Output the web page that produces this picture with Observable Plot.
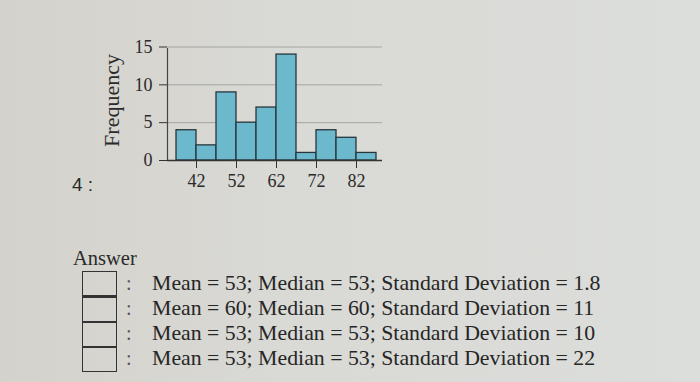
<!DOCTYPE html>
<html>
<head>
<meta charset="utf-8">
<script src="https://cdn.jsdelivr.net/npm/d3@7"></script>
<script src="https://cdn.jsdelivr.net/npm/@observablehq/plot@0.6"></script>
<style>
  html, body { margin: 0; padding: 0; }
  body {
    width: 700px; height: 382px; overflow: hidden; position: relative;
    background: linear-gradient(90deg, #d4d2cc 0%, #d9d9d5 40%, #dcdedb 100%);
    color: #262626;
  }
  #chart { position: absolute; left: 0; top: 0; }
  .qnum { position: absolute; left: 72px; top: 174px; font-family: "Liberation Sans", Arial, sans-serif; font-size: 19px; color: #2a2a2a; }
  .answer { position: absolute; left: 73px; top: 246px; font-family: "Liberation Serif", "Times New Roman", serif; font-size: 20.5px; line-height: 24px; color: #2a2a2a; }
  .choices { position: absolute; left: 82px; top: 271px; }
  .row { position: relative; height: 25px; }
  .box { position: absolute; left: 0; top: 0; width: 33px; height: 23px; border: 1.5px solid #333; }
  .row + .row .box { top: -0.5px; border-top-width: 2px; }
  .colon { position: absolute; left: 44px; top: 0px; font-family: "Liberation Serif", serif; font-size: 20px; line-height: 25px; color: #555; }
  .txt { position: absolute; left: 70px; top: 0px; white-space: nowrap; font-family: "Liberation Serif", "Times New Roman", serif; font-size: 21.8px; line-height: 25px; color: #262626; }
</style>
</head>
<body>
<div id="chart"></div>
<script>
// ---- data ----
const binLower = [37, 42, 47, 52, 57, 62, 67, 72, 77, 82];
const binUpper = [42, 47, 52, 57, 62, 67, 72, 77, 82, 87];
const counts   = [4, 2, 9, 5, 7, 14, 1, 4, 3, 1];
const xTicks = [42, 52, 62, 72, 82];
const yTicks = [0, 5, 10, 15];
const yLabel = "Frequency";
const questionLabel = "4 :";
const answerLabel = "Answer";
const choices = [
  "Mean = 53; Median = 53; Standard Deviation = 1.8",
  "Mean = 60; Median = 60; Standard Deviation = 11",
  "Mean = 53; Median = 53; Standard Deviation = 10",
  "Mean = 53; Median = 53; Standard Deviation = 22"
];

const bins = binLower.map((lo, i) => ({lo, hi: binUpper[i], count: counts[i]}));
const xDomain = [34.75, 88.5];
const yDomain = [0, 15.86];

const chart = Plot.plot({
  width: 700,
  height: 200,
  marginLeft: 167,
  marginRight: 318,
  marginTop: 40,
  marginBottom: 40,
  style: {background: "transparent", fontFamily: "Liberation Serif, Times New Roman, serif", fontSize: "18px", color: "#2a2a2a"},
  x: {domain: xDomain},
  y: {domain: yDomain},
  marks: [
    Plot.gridY(yTicks.filter(d => d > 0), {stroke: "#8f8f8f", strokeOpacity: 0.7}),
    Plot.rectY(bins, {x1: "lo", x2: "hi", y: "count", fill: "#6cb8cc", stroke: "#27363c", strokeWidth: 1.3}),
    Plot.ruleY([0], {stroke: "#333", strokeWidth: 1.3}),
    Plot.ruleX([xDomain[0]], {y1: yDomain[0], y2: yDomain[1], stroke: "#444", strokeWidth: 1.2, insetBottom: -8}),
    Plot.axisX({ticks: xTicks, tickSize: 8, tickPadding: 6, label: null, stroke: "#333", fontSize: 18}),
    Plot.axisY({ticks: yTicks, tickSize: 8, tickPadding: 7, label: null, stroke: "#333", fontSize: 18}),
    Plot.axisY({ticks: [], tickSize: 0, label: yLabel, labelAnchor: "center", labelArrow: "none", labelOffset: 64, fontSize: 22})
  ]
});
document.getElementById("chart").appendChild(chart);

const q = document.createElement("div"); q.className = "qnum"; q.textContent = questionLabel; document.body.appendChild(q);
const a = document.createElement("div"); a.className = "answer"; a.textContent = answerLabel; document.body.appendChild(a);
const wrap = document.createElement("div"); wrap.className = "choices";
choices.forEach(c => {
  const r = document.createElement("div"); r.className = "row";
  const b = document.createElement("div"); b.className = "box";
  const co = document.createElement("div"); co.className = "colon"; co.textContent = ":";
  const t = document.createElement("div"); t.className = "txt"; t.textContent = c;
  r.append(b, co, t); wrap.appendChild(r);
});
document.body.appendChild(wrap);
</script>
</body>
</html>
